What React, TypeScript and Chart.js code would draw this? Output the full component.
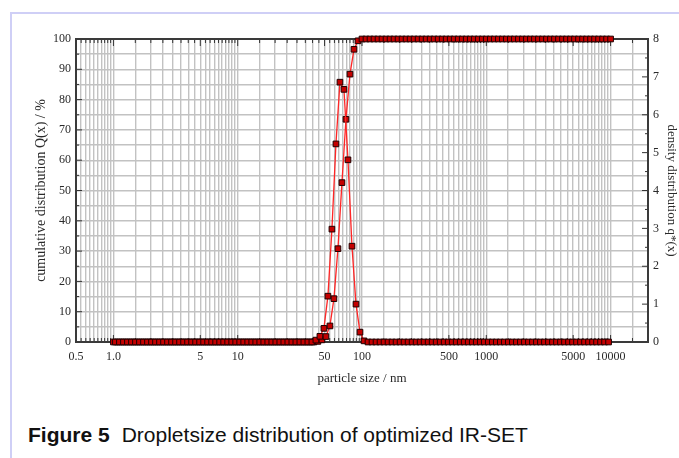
import React, { useEffect, useRef } from "react";
import { Chart, registerables } from "chart.js";

Chart.register(...registerables);

// ---- size classes (instrument grid, geometric, 31 classes per decade from 1.0 to 10000 nm)
const BINS_PER_DECADE = 31;
const FIRST_CLASS = 0; // 1.0 nm
const LAST_CLASS = 124; // 10000 nm

// ---- cumulative distribution Q(x) / % (at class upper edges)
const cumulativeStartClass = 51;
const cumulativeRise = [0.2, 0.7, 1.8, 5.3, 14.3, 30.8, 52.6, 73.5, 88.4, 96.6, 99.4];
const cumulativeBefore = 0;
const cumulativeAfter = 100;

// ---- density distribution q*(x) (at class midpoints)
const densityStartClass = 51;
const densityPeak = [0.05, 0.15, 0.36, 1.21, 2.98, 5.23, 6.86, 6.67, 4.81, 2.53, 1.0, 0.26, 0.03];
const densityOutside = 0;

// ---- axes
const xMin = 0.5;
const xMax = 20000;
const xTickValues = [0.5, 1, 5, 10, 50, 100, 500, 1000, 5000, 10000];
const xTickLabels = ["0.5", "1.0", "5", "10", "50", "100", "500", "1000", "5000", "10000"];
const xGridDecades = [0.1, 1, 10, 100, 1000, 10000];
const xGridSteps = [1, 1.5, 2, 2.5, 3, 3.5, 4, 4.5, 5, 5.5, 6, 6.5, 7, 7.5, 8, 8.5, 9, 9.5];
const leftMin = 0;
const leftMax = 100;
const leftStep = 5;
const leftLabelEvery = 10;
const rightMin = 0;
const rightMax = 8;
const rightStep = 0.5;

const leftTitle = "cumulative distribution Q(x) / %";
const rightTitle = "density distribution q*(x)";
const bottomTitle = "particle size / nm";
const captionBold = "Figure 5";
const captionText = "Dropletsize distribution of optimized IR-SET";

const SERIF = "'Liberation Serif', 'DejaVu Serif', serif";
const SANS = "'Liberation Sans', Arial, sans-serif";

const classSize = (k: number) => Math.pow(10, k / BINS_PER_DECADE);

function buildCumulative() {
  const out: { x: number; y: number }[] = [];
  for (let k = FIRST_CLASS; k <= LAST_CLASS; k++) {
    const i = k - cumulativeStartClass;
    const y = i < 0 ? cumulativeBefore : i < cumulativeRise.length ? cumulativeRise[i] : cumulativeAfter;
    out.push({ x: classSize(k), y });
  }
  return out;
}

function buildDensity() {
  const out: { x: number; y: number }[] = [];
  for (let k = FIRST_CLASS + 1; k <= LAST_CLASS; k++) {
    const i = k - densityStartClass;
    const y = i >= 0 && i < densityPeak.length ? densityPeak[i] : densityOutside;
    out.push({ x: classSize(k - 0.5), y });
  }
  return out;
}

function buildXGrid() {
  const vals: number[] = [];
  for (const d of xGridDecades) {
    for (const m of xGridSteps) {
      const v = +(d * m).toPrecision(6);
      if (v >= xMin - 1e-9 && v <= xMax + 1e-9) vals.push(v);
    }
  }
  return vals;
}

const labelFor = (v: number) => {
  const i = xTickValues.findIndex((t) => Math.abs(t - v) / t < 1e-6);
  return i >= 0 ? xTickLabels[i] : "";
};

const framePlugin = {
  id: "frameTicks",
  beforeDatasetsDraw(chart: any) {
    const { ctx, chartArea, scales } = chart;
    const { left, right, top, bottom } = chartArea;
    ctx.save();
    ctx.strokeStyle = "#333";
    ctx.lineWidth = 1;
    ctx.beginPath();
    for (const t of scales.x.ticks) {
      const px = scales.x.getPixelForValue(t.value);
      const len = labelFor(t.value) ? 7 : 4;
      ctx.moveTo(px, bottom);
      ctx.lineTo(px, bottom - len);
      ctx.moveTo(px, top);
      ctx.lineTo(px, top + len);
    }
    for (const t of scales.y.ticks) {
      const py = scales.y.getPixelForValue(t.value);
      const len = t.value % leftLabelEvery === 0 ? 6 : 3;
      ctx.moveTo(left, py);
      ctx.lineTo(left + len, py);
    }
    for (const t of scales.y2.ticks) {
      const py = scales.y2.getPixelForValue(t.value);
      const len = Number.isInteger(t.value) ? 6 : 3;
      ctx.moveTo(right, py);
      ctx.lineTo(right - len, py);
    }
    ctx.stroke();
    ctx.lineWidth = 2;
    ctx.strokeStyle = "#3a3a3a";
    ctx.strokeRect(left, top, right - left, bottom - top);
    ctx.restore();
  },
};

function DistributionChart() {
  const ref = useRef<HTMLCanvasElement | null>(null);
  useEffect(() => {
    if (!ref.current) return;
    const xGrid = buildXGrid();
    const pointStyle = {
      showLine: true,
      borderColor: "#ff2626",
      borderWidth: 1.3,
      pointStyle: "rect" as const,
      pointRadius: 4,
      pointBackgroundColor: "#c40000",
      pointBorderColor: "#1e0000",
      pointBorderWidth: 1,
      tension: 0,
      clip: false as const,
    };
    const tickFont = { family: SERIF, size: 12 };
    const titleFont = { family: SERIF, size: 13 };
    const chart = new Chart(ref.current, {
      type: "scatter",
      data: {
        datasets: [
          { label: "q*(x)", data: buildDensity(), yAxisID: "y2", ...pointStyle },
          { label: "Q(x)", data: buildCumulative(), yAxisID: "y", ...pointStyle },
        ],
      },
      options: {
        animation: false,
        responsive: false,
        layout: { padding: { left: 0, right: 0, top: 39, bottom: 0 } },
        plugins: { legend: { display: false }, tooltip: { enabled: false } },
        scales: {
          x: {
            type: "logarithmic",
            position: "bottom",
            min: xMin,
            max: xMax,
            afterBuildTicks: (s: any) => {
              s.ticks = xGrid.map((v) => ({ value: v }));
            },
            afterFit: (s: any) => {
              s.height = 58;
            },
            ticks: {
              autoSkip: false,
              maxRotation: 0,
              minRotation: 0,
              padding: 8,
              font: tickFont,
              color: "#2a2a2a",
              callback: (v: any) => labelFor(Number(v)),
            },
            grid: { color: "#c2c2c2", lineWidth: 1.4, drawTicks: false },
            border: { display: false },
            title: {
              display: true,
              text: bottomTitle,
              font: titleFont,
              color: "#2a2a2a",
              padding: { top: 0, bottom: 14 },
            },
          },
          y: {
            type: "linear",
            position: "left",
            min: leftMin,
            max: leftMax,
            afterFit: (s: any) => {
              s.width = 76;
            },
            ticks: {
              stepSize: leftStep,
              autoSkip: false,
              padding: 5,
              font: tickFont,
              color: "#2a2a2a",
              callback: (v: any) => (Number(v) % leftLabelEvery === 0 ? String(v) : ""),
            },
            grid: { color: "#c2c2c2", lineWidth: 1.4, drawTicks: false },
            border: { display: false },
            title: {
              display: true,
              text: leftTitle,
              font: { family: SERIF, size: 14 },
              color: "#2a2a2a",
              padding: { top: 33, bottom: 0 },
            },
          },
          y2: {
            type: "linear",
            position: "right",
            min: rightMin,
            max: rightMax,
            afterFit: (s: any) => {
              s.width = 31;
            },
            ticks: {
              stepSize: rightStep,
              autoSkip: false,
              padding: 5,
              font: tickFont,
              color: "#2a2a2a",
              callback: (v: any) => (Number.isInteger(Number(v)) ? String(v) : ""),
            },
            grid: { display: false, drawTicks: false },
            border: { display: false },
            title: {
              display: true,
              text: rightTitle,
              font: titleFont,
              color: "#2a2a2a",
              padding: { top: 0, bottom: 0 },
            },
          },
        },
      },
      plugins: [framePlugin],
    } as any);
    return () => chart.destroy();
  }, []);
  return (
    <canvas
      ref={ref}
      width={679}
      height={400}
      style={{ position: "absolute", left: 0, top: 0, width: 679, height: 400 }}
    />
  );
}

export default function App() {
  return (
    <div style={{ position: "absolute", left: 0, top: 0, width: 679, height: 458, background: "#fff", overflow: "hidden" }}>
      <div
        style={{
          position: "absolute",
          left: 10,
          top: 12,
          right: 0,
          bottom: 0,
          borderLeft: "2px solid #cfcff6",
          borderTop: "2px solid #cfcff6",
        }}
      />
      <DistributionChart />
      <div
        style={{
          position: "absolute",
          left: 28,
          top: 423,
          fontFamily: SANS,
          fontSize: 21,
          lineHeight: "24px",
          color: "#111",
          whiteSpace: "nowrap",
        }}
      >
        <b>{captionBold}</b>
        <span style={{ marginLeft: 12 }}>{captionText}</span>
      </div>
    </div>
  );
}
